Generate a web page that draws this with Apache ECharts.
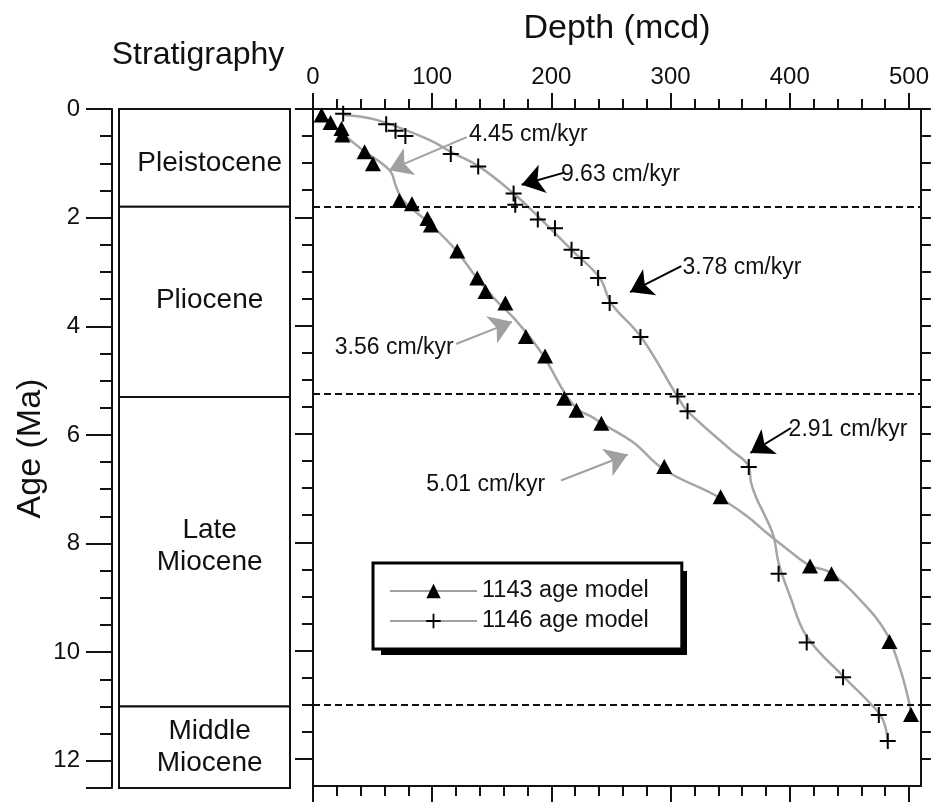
<!DOCTYPE html>
<html>
<head>
<meta charset="utf-8">
<title>Age model</title>
<script src="https://cdn.jsdelivr.net/npm/echarts@6.0.0/dist/echarts.min.js"></script>
<style>
  html, body { margin: 0; padding: 0; background: #fff; }
  #chart { width: 932px; height: 802px; }
</style>
</head>
<body>
<div id="chart"></div>
<script>
// tick labels
const depthTicks = [0, 100, 200, 300, 400, 500];
const ageTicks = [0, 2, 4, 6, 8, 10, 12];

// stratigraphy column
const stageNames = ['Pleistocene', 'Pliocene', 'Late\nMiocene', 'Middle\nMiocene'];
const stageTop = [0, 1.8, 5.3, 11.0];
const stageBase = [1.8, 5.3, 11.0, 12.5];
const stageLabelAge = [1.0, 3.52, 8.05, 11.75];

// epoch boundaries (dashed)
const boundaryAges = [1.8, 5.25, 11.0];

// 1143 age model control points
const site1143Depth = [7.2, 14.7, 23.9, 24.7, 43.3, 50.3, 72.5, 83, 96, 98.9, 121, 137.8, 144.7, 161.4, 178.6, 194.7, 210.8, 221, 241.9, 294.7, 342, 417, 435, 483.6, 501.7];
const site1143Age = [0.11, 0.25, 0.36, 0.48, 0.79, 1.01, 1.69, 1.75, 2.02, 2.14, 2.62, 3.12, 3.37, 3.58, 4.2, 4.56, 5.34, 5.56, 5.8, 6.6, 7.16, 8.44, 8.58, 9.83, 11.18];

// 1146 age model control points
const site1146Depth = [25.3, 61.4, 69.2, 77.5, 115.6, 138.6, 168.3, 169.7, 188.6, 203, 216.9, 225.3, 239.2, 248.9, 274.7, 305.8, 314.2, 365.6, 390.6, 414.2, 444.7, 474.7, 482.2];
const site1146Age = [0.09, 0.28, 0.4, 0.5, 0.83, 1.06, 1.56, 1.77, 2.04, 2.2, 2.6, 2.75, 3.12, 3.58, 4.21, 5.31, 5.58, 6.61, 8.58, 9.85, 10.49, 11.19, 11.67];

// smoothed age-depth curves
const curve1143Depth = [22, 41.7, 64.2, 69.7, 75.3, 97.5, 119.7, 136.4, 153, 169.7, 191.9, 211.4, 222.5, 233.6, 241.9, 268.3, 294.7, 339, 364.2, 380.8, 400.3, 417, 435, 461.4, 480.8, 491.9, 498.9, 501.7];
const curve1143Age = [0.4, 0.76, 1.13, 1.43, 1.68, 2.11, 2.6, 3.09, 3.52, 3.89, 4.51, 5.25, 5.55, 5.68, 5.8, 6.15, 6.66, 7.15, 7.52, 7.83, 8.17, 8.43, 8.57, 9.12, 9.67, 10.29, 10.84, 11.15];
const curve1146Depth = [25, 53.3, 97.5, 115.6, 139.2, 168.3, 189.2, 216.9, 240.6, 250.3, 275.3, 305.8, 314.2, 350.3, 365.6, 367.5, 372.5, 378.1, 386.4, 390.6, 400.3, 414.2, 444.7, 466.9, 478, 482.2];
const curve1146Age = [0.11, 0.2, 0.57, 0.79, 1.06, 1.56, 1.99, 2.6, 3.12, 3.59, 4.21, 5.31, 5.58, 6.29, 6.6, 6.9, 7.21, 7.46, 7.89, 8.38, 9.0, 9.74, 10.47, 10.96, 11.27, 11.67];

// sedimentation-rate annotations
const annoText = ['4.45 cm/kyr', '9.63 cm/kyr', '3.78 cm/kyr', '3.56 cm/kyr', '5.01 cm/kyr', '2.91 cm/kyr'];
const annoTextAt = [[130.8, 0.48], [208, 1.22], [310, 2.93], [18.3, 4.41], [95, 6.94], [399, 5.92]];
const annoFrom = [[129, 0.52], [210, 1.18], [309, 2.9], [120, 4.34], [208, 6.86], [401, 5.89]];
const annoTo = [[64, 1.13], [175, 1.4], [266, 3.38], [167, 3.93], [264, 6.38], [367, 6.35]];
const annoColor = ['#a0a0a0', '#000', '#000', '#a0a0a0', '#a0a0a0', '#000'];

const FONT = '"Liberation Sans", Arial, sans-serif';
const INK = '#111';
const CURVE = '#a6a6a6';

const zip = (xs, ys) => xs.map((x, i) => [x, ys[i]]);
const minorOf = (max, step, majors) => {
  const out = [];
  for (let v = 0; v <= max + 1e-9; v += step) {
    const r = Math.round(v * 100) / 100;
    if (majors.indexOf(r) < 0) out.push(r);
  }
  return out;
};
const depthMinor = minorOf(500, 20, depthTicks);
const ageMinor = minorOf(12.5, 0.5, ageTicks.concat([12.5]));

const chart = echarts.init(document.getElementById('chart'));

const axisLine = { show: true, onZero: false, lineStyle: { color: INK, width: 2 } };
const noLine = { show: false, onZero: false };
const tickStyle = { color: INK, width: 2 };

// legend box geometry (frame + drop shadow)
const LEG_X = 373, LEG_Y = 563, LEG_W = 306, LEG_H = 84, SHADOW = 8;

const option = {
  animation: false,
  backgroundColor: '#fff',
  graphic: [
    {
      type: 'text', x: 198, y: 55,
      style: { text: 'Stratigraphy', font: '32px ' + FONT, fill: INK, align: 'center', verticalAlign: 'middle' }
    },
    {
      type: 'rect', z: 3, silent: true,
      shape: { x: LEG_X + SHADOW, y: LEG_Y + SHADOW, width: LEG_W, height: LEG_H },
      style: { fill: '#000' }
    }
  ],
  grid: [
    { left: 119, top: 109, right: 642, bottom: 14 },
    { left: 313, top: 109, right: 7, bottom: 16 }
  ],
  legend: {
    orient: 'vertical',
    left: LEG_X, top: LEG_Y,
    padding: [16, 33, 16, 16],
    itemGap: 6,
    itemWidth: 87, itemHeight: 18,
    backgroundColor: '#fff',
    borderColor: '#000', borderWidth: 3, borderRadius: 0,
    textStyle: { fontSize: 23.5, color: INK, fontFamily: FONT },
    selectedMode: false,
    z: 6,
    data: [
      { name: '1143 age model', lineStyle: { color: '#a0a0a0', width: 2, opacity: 1 } },
      { name: '1146 age model', lineStyle: { color: '#a0a0a0', width: 2, opacity: 1 } }
    ]
  },
  xAxis: [
    { gridIndex: 0, type: 'value', min: 0, max: 1, show: false },
    {
      gridIndex: 1, type: 'value', position: 'top', min: 0, max: 510,
      name: 'Depth (mcd)', nameLocation: 'middle', nameGap: 63,
      nameTextStyle: { fontSize: 34, color: INK, fontFamily: FONT },
      axisLine: axisLine,
      axisTick: { length: 16, lineStyle: tickStyle, customValues: depthTicks },
      axisLabel: { customValues: depthTicks, fontSize: 24, color: INK, fontFamily: FONT, margin: 20 },
      splitLine: { show: false }
    },
    {
      gridIndex: 1, type: 'value', position: 'top', min: 0, max: 510,
      axisLine: noLine,
      axisTick: { length: 10, lineStyle: tickStyle, customValues: depthMinor },
      axisLabel: { show: false }, splitLine: { show: false }
    },
    {
      gridIndex: 1, type: 'value', position: 'bottom', min: 0, max: 510,
      axisLine: axisLine,
      axisTick: { length: 16, lineStyle: tickStyle, customValues: depthTicks },
      axisLabel: { show: false }, splitLine: { show: false }
    },
    {
      gridIndex: 1, type: 'value', position: 'bottom', min: 0, max: 510,
      axisLine: noLine,
      axisTick: { length: 10, lineStyle: tickStyle, customValues: depthMinor },
      axisLabel: { show: false }, splitLine: { show: false }
    }
  ],
  yAxis: [
    {
      gridIndex: 0, type: 'value', inverse: true, min: 0, max: 12.5, position: 'left', offset: 7,
      name: 'Age (Ma)', nameLocation: 'middle', nameGap: 64, nameRotate: 90,
      nameTextStyle: { fontSize: 34, color: INK, fontFamily: FONT },
      axisLine: axisLine,
      axisTick: { length: 26, lineStyle: tickStyle, customValues: ageTicks.concat([12.5]) },
      axisLabel: { customValues: ageTicks, fontSize: 24, color: INK, fontFamily: FONT, margin: 32 },
      splitLine: { show: false }
    },
    {
      gridIndex: 0, type: 'value', inverse: true, min: 0, max: 12.5, position: 'left', offset: 7,
      axisLine: noLine,
      axisTick: { length: 12, lineStyle: tickStyle, customValues: ageMinor },
      axisLabel: { show: false }, splitLine: { show: false }
    },
    {
      gridIndex: 1, type: 'value', inverse: true, min: 0, max: 12.5, position: 'left',
      axisLine: axisLine,
      axisTick: { length: 18, lineStyle: tickStyle, customValues: ageTicks },
      axisLabel: { show: false }, splitLine: { show: false }
    },
    {
      gridIndex: 1, type: 'value', inverse: true, min: 0, max: 12.5, position: 'left',
      axisLine: noLine,
      axisTick: { length: 11, lineStyle: tickStyle, customValues: ageMinor },
      axisLabel: { show: false }, splitLine: { show: false }
    },
    {
      gridIndex: 1, type: 'value', inverse: true, min: 0, max: 12.5, position: 'right',
      axisLine: axisLine,
      axisTick: { length: 10, lineStyle: tickStyle, customValues: ageTicks.concat(ageMinor) },
      axisLabel: { show: false }, splitLine: { show: false }
    }
  ],
  series: [
    {
      name: 'stratigraphy', type: 'custom', xAxisIndex: 0, yAxisIndex: 0, silent: true,
      data: stageTop.map((t, i) => [t, stageBase[i], stageLabelAge[i]]),
      renderItem: function (params, api) {
        const i = params.dataIndex;
        const p0 = api.coord([0, api.value(0)]);
        const p1 = api.coord([1, api.value(1)]);
        const pl = api.coord([0.53, api.value(2)]);
        return {
          type: 'group',
          children: [
            {
              type: 'rect',
              shape: { x: p0[0], y: p0[1], width: p1[0] - p0[0], height: p1[1] - p0[1] },
              style: { fill: '#fff', stroke: INK, lineWidth: 2 }
            },
            {
              type: 'text', x: pl[0], y: pl[1],
              style: {
                text: stageNames[i], fill: INK, fontSize: 28, fontFamily: FONT,
                lineHeight: 32, align: 'center', verticalAlign: 'middle'
              }
            }
          ]
        };
      }
    },
    {
      name: 'curve1143', type: 'line', xAxisIndex: 1, yAxisIndex: 2, silent: true,
      data: zip(curve1143Depth, curve1143Age),
      smooth: 0.4, symbol: 'none',
      lineStyle: { color: CURVE, width: 2.5 },
      markLine: {
        silent: true, symbol: ['none', 'none'], animation: false,
        label: { show: false },
        lineStyle: { color: INK, width: 1.8, type: [7, 4] },
        data: boundaryAges.map(a => ({ yAxis: a }))
      },
      z: 2
    },
    {
      name: 'curve1146', type: 'line', xAxisIndex: 1, yAxisIndex: 2, silent: true,
      data: zip(curve1146Depth, curve1146Age),
      smooth: 0.4, symbol: 'none',
      lineStyle: { color: CURVE, width: 2.5 },
      markLine: {
        silent: true, symbol: ['none', 'arrow'], symbolSize: 22, animation: false,
        label: { show: false },
        data: annoFrom.map((f, i) => [
          { coord: f, lineStyle: { color: annoColor[i], width: 2, type: 'solid' }, itemStyle: { color: annoColor[i] } },
          { coord: annoTo[i], lineStyle: { color: annoColor[i], width: 2, type: 'solid' }, itemStyle: { color: annoColor[i] } }
        ])
      },
      markPoint: {
        silent: true, symbol: 'circle', symbolSize: 0, animation: false,
        label: {
          show: true, position: 'right', distance: 0, formatter: '{b}',
          fontSize: 23, color: INK, fontFamily: FONT
        },
        data: annoText.map((t, i) => ({ name: t, coord: annoTextAt[i] }))
      },
      z: 2
    },
    {
      name: '1143 age model', type: 'line', xAxisIndex: 1, yAxisIndex: 2,
      data: zip(site1143Depth, site1143Age),
      symbol: 'triangle', symbolSize: [16, 15], showAllSymbol: true,
      itemStyle: { color: '#000' },
      lineStyle: { opacity: 0 },
      z: 5
    },
    {
      name: '1146 age model', type: 'line', xAxisIndex: 1, yAxisIndex: 2,
      data: zip(site1146Depth, site1146Age),
      symbol: 'path://M7,0H9V7H16V9H9V16H7V9H0V7H7Z', symbolSize: 16, showAllSymbol: true,
      itemStyle: { color: '#000' },
      lineStyle: { opacity: 0 },
      z: 5
    }
  ]
};

chart.setOption(option);
</script>
</body>
</html>
